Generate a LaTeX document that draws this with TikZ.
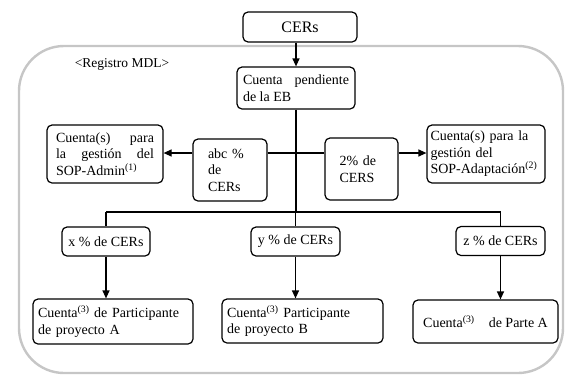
\documentclass[tikz,border=0pt]{standalone}
\usepackage{fontspec}
\setmainfont{Liberation Serif}
\usetikzlibrary{arrows.meta}
\newcommand{\bodyfs}{\fontsize{14}{16.5}\selectfont}
\tikzset{
  box/.style={draw, line width=1.2pt, rounded corners=5pt, inner sep=4pt, font=\bodyfs},
  conn/.style={line width=1.2pt},
  arr/.style={line width=1.2pt, -{Triangle[length=8pt,width=7pt]}},
  frame/.style={draw=gray!45, line width=2.4pt, rounded corners=45pt}
}
\begin{document}
\begin{tikzpicture}[x=1pt,y=-1pt]
\useasboundingbox (0,0) rectangle (565,381);
\draw[frame] (19,46) rectangle (563,373);
\node[font=\fontsize{13.5}{15}\selectfont] (reg) at (122,64) {\textless Registro MDL\textgreater};

\node[box, minimum width=114pt, minimum height=30pt, font=\fontsize{16}{18}\selectfont] (cers) at (300,27) {CERs};
\node[box, minimum width=118pt, minimum height=42pt, text width=106pt, align=justify] (pend) at (296,88) {Cuenta pendiente\linebreak de la EB};

\node[box, minimum width=116pt, minimum height=58pt, text width=98pt, align=justify] (adm) at (105,154) {Cuenta(s) para\linebreak la gestión del\linebreak SOP-Admin\textsuperscript{(1)}};
\node[box, minimum width=74pt, minimum height=62pt, text width=44pt, align=left] (abc) at (230,170) {abc \%\\de\\CERs};
\node[box, minimum width=73pt, minimum height=62pt, text width=44pt, align=left] (two) at (361.5,169) {2\% de\\CERS};
\node[box, minimum width=118pt, minimum height=58pt, text width=111pt, align=left, inner xsep=3pt] (adp) at (486,154) {Cuenta(s) para la\\gestión del\\SOP-Adaptación\textsuperscript{(2)}};

\node[box, minimum width=88pt, minimum height=29pt] (xb) at (106,241.5) {x \% de CERs};
\node[box, minimum width=89pt, minimum height=29pt] (yb) at (295.5,241.5) {y \% de CERs};
\node[box, minimum width=89pt, minimum height=29pt] (zb) at (500.5,241) {z \% de CERs};

\node[box, minimum width=160pt, minimum height=45pt, text width=150pt, align=left] (pa) at (113,321.5) {Cuenta\textsuperscript{(3)} de Participante\\de proyecto A};
\node[box, minimum width=161pt, minimum height=44pt, text width=151pt, align=left] (pb) at (302.5,321) {Cuenta\textsuperscript{(3)} Participante\\de proyecto B};
\node[box, minimum width=145pt, minimum height=43pt] (pc) at (485.5,321.5) {Cuenta\textsuperscript{(3)}\quad de Parte A};

\coordinate (h) at (296,153);
\coordinate (d) at (296,212);

\draw[arr] (pend.north |- cers.south) -- (pend.north);
\draw[conn] (pend.south) -- (d);
\draw[conn] (abc.east |- h) -- (two.west |- h);
\draw[arr] (abc.west |- h) -- (adm.east |- h);
\draw[arr] (two.east |- h) -- (adp.west |- h);
\draw[conn] (xb.north |- d) -- (zb.north |- d);
\draw[conn] (xb.north |- d) -- (xb.north);
\draw[conn] (yb.north |- d) -- (yb.north);
\draw[conn] (zb.north |- d) -- (zb.north);
\draw[arr] (xb.south) -- (xb.south |- pa.north);
\draw[arr] (yb.south) -- (yb.south |- pb.north);
\draw[arr] (zb.south) -- (zb.south |- pc.north);
\end{tikzpicture}
\end{document}
